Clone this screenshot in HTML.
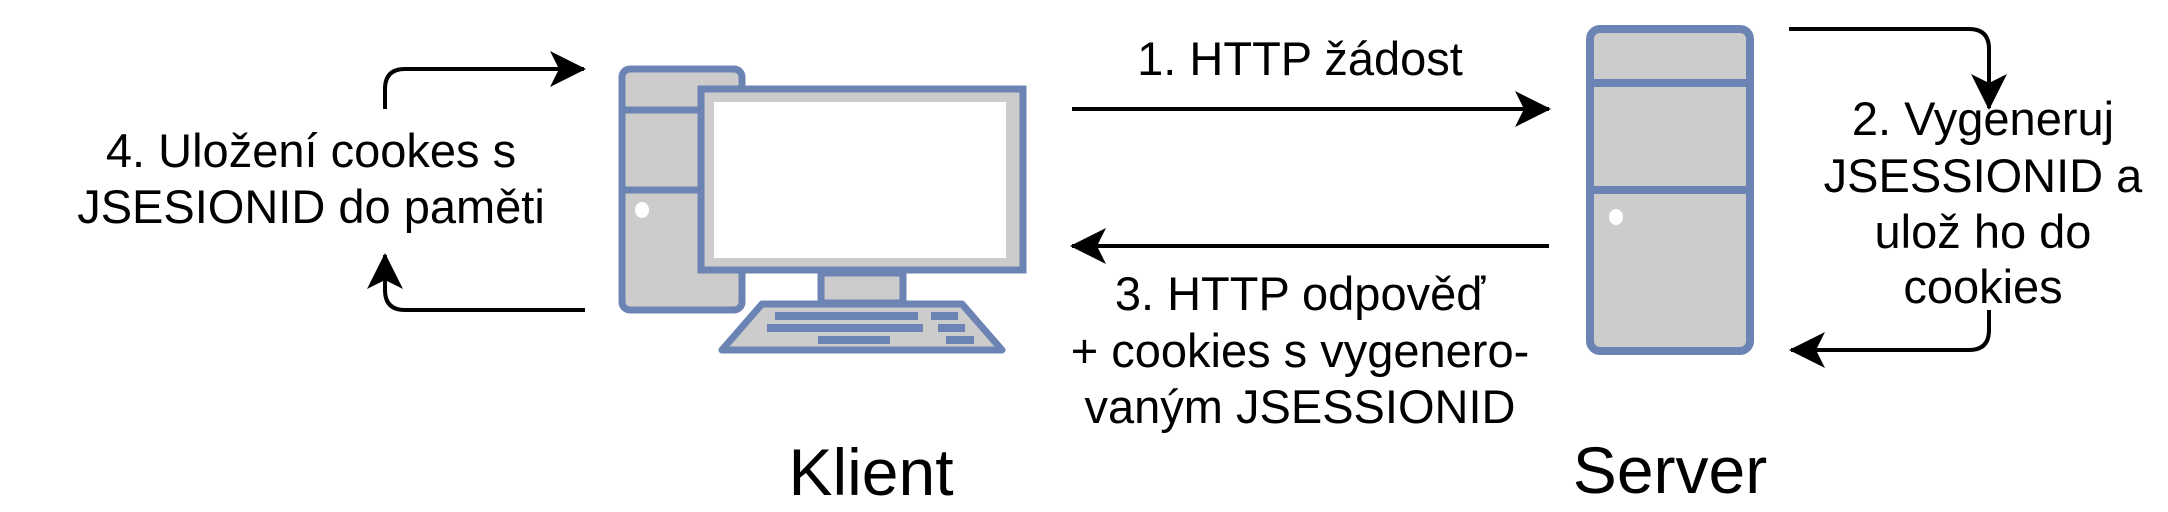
<!DOCTYPE html>
<html><head><meta charset="utf-8"><style>
html,body{margin:0;padding:0;background:#fff;}
svg{display:block;}
text{font-family:"Liberation Sans",Helvetica,Arial,sans-serif;fill:#000;}
</style></head><body>
<svg width="2168" height="512" viewBox="0 0 2168 512" xmlns="http://www.w3.org/2000/svg">
<defs>
<marker id="ah" viewBox="0 0 36 36" markerWidth="36" markerHeight="36" refX="34" refY="18" orient="auto" markerUnits="userSpaceOnUse">
<path d="M0,0 L36,18 L0,36 L9,18 Z" fill="#000"/>
</marker>
</defs>
<g fill="none" stroke="#000" stroke-width="4">
<!-- arrow 1 -->
<line x1="1072" y1="109" x2="1549" y2="109" marker-end="url(#ah)"/>
<!-- arrow 3 -->
<line x1="1549" y1="246" x2="1072" y2="246" marker-end="url(#ah)"/>
<!-- left loop -->
<path d="M385,109 L385,89 Q385,69 405,69 L584,69" marker-end="url(#ah)"/>
<path d="M585,310 L405,310 Q385,310 385,290 L385,255" marker-end="url(#ah)"/>
<!-- right loop -->
<path d="M1789,29 L1969,29 Q1989,29 1989,49 L1989,108" marker-end="url(#ah)"/>
<path d="M1989,310 L1989,330 Q1989,350 1969,350 L1791,350" marker-end="url(#ah)"/>
</g>
<!-- client computer -->
<g stroke="#6c84b4" stroke-width="7" fill="#cccccc" stroke-linejoin="round">
<rect x="622" y="69" width="120" height="241" rx="8"/>
<line x1="622" y1="110" x2="742" y2="110"/>
<line x1="622" y1="190" x2="742" y2="190"/>
<polygon points="762,304 962,304 1002,350 722,350"/>
<rect x="821" y="273" width="82" height="30"/>
<rect x="701" y="89" width="322" height="181" stroke-linejoin="miter"/>
</g>
<rect x="714" y="102" width="292" height="156" fill="#fff"/>
<ellipse cx="642" cy="210" rx="7" ry="8" fill="#fff"/>
<g fill="#6c84b4">
<rect x="775" y="312" width="143" height="8"/>
<rect x="931" y="312" width="27" height="8"/>
<rect x="767" y="324" width="156" height="8"/>
<rect x="938" y="324" width="27" height="8"/>
<rect x="818" y="336" width="72" height="8"/>
<rect x="946" y="336" width="28" height="8"/>
</g>
<!-- server -->
<g stroke="#6c84b4" stroke-width="8" fill="#cccccc">
<rect x="1590" y="29" width="160" height="322" rx="10"/>
<line x1="1590" y1="83" x2="1750" y2="83"/>
<line x1="1590" y1="190" x2="1750" y2="190"/>
</g>
<ellipse cx="1616" cy="217" rx="7" ry="8" fill="#fff"/>
<!-- labels -->
<g font-size="47" text-anchor="middle">
<text x="311" y="167">4. Uložení cookes s</text>
<text x="311" y="223">JSESIONID do paměti</text>
<text x="1300" y="75">1. HTTP žádost</text>
<text x="1300" y="310">3. HTTP odpověď</text>
<text x="1300" y="367">+ cookies s vygenero-</text>
<text x="1300" y="423">vaným JSESSIONID</text>
<text x="1983" y="135">2. Vygeneruj</text>
<text x="1983" y="192">JSESSIONID a</text>
<text x="1983" y="248">ulož ho do</text>
<text x="1983" y="303">cookies</text>
</g>
<g font-size="66" text-anchor="middle">
<text x="871" y="495">Klient</text>
<text x="1670" y="493">Server</text>
</g>
</svg>
</body></html>
